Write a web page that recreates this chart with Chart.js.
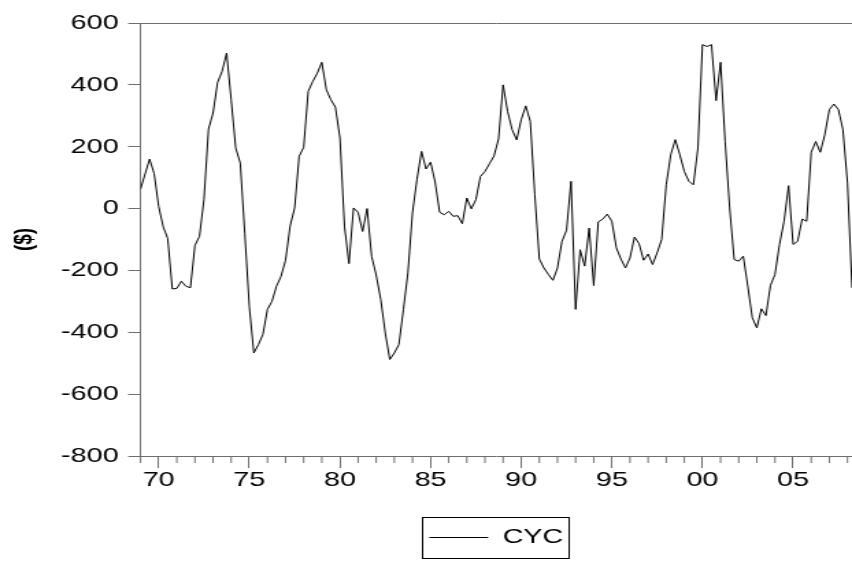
<!DOCTYPE html>
<html>
<head>
<meta charset="utf-8">
<title>CYC</title>
<script src="https://cdn.jsdelivr.net/npm/chart.js@4.4.1/dist/chart.umd.min.js"></script>
<style>
  html, body { margin: 0; padding: 0; background: #fff; overflow: hidden; }
  #cycChart { display: block; }
</style>
</head>
<body>
<!-- the original graph was stretched sideways, so the canvas is drawn narrow and widened by its inline style -->
<canvas id="cycChart" width="622" height="563" style="width:852px;height:563px"></canvas>
<script>
// quarterly series, first observation 1969Q1
const startYear = 1969;
const cyc = [
    63, 112, 160, 113, 7, -59, -97, -260, -258, -235, -251, -256, -119, -90, 30, 257,
    309, 408, 444, 503, 352, 196, 147, -80, -316, -467, -440, -407, -326, -300, -251, -219,
    -167, -57, 2, 169, 198, 379, 411, 438, 473, 384, 352, 328, 228, -57, -178, 2,
    -12, -74, 0, -155, -215, -294, -402, -488, -467, -440, -327, -208, -14, 94, 185, 128,
    150, 86, -12, -20, -9, -25, -23, -49, 34, -1, 29, 104, 120, 145, 170, 225,
    400, 314, 255, 222, 287, 332, 282, 45, -163, -192, -213, -232, -192, -106, -70, 88,
    -326, -133, -186, -63, -249, -43, -34, -18, -41, -127, -163, -192, -160, -92, -113, -167,
    -147, -181, -143, -100, 77, 174, 223, 174, 120, 88, 77, 196, 530, 524, 530, 349,
    473, 217, 2, -165, -170, -154, -251, -353, -386, -324, -346, -249, -213, -116, -41, 74,
    -116, -106, -34, -41, 182, 217, 182, 239, 320, 338, 320, 255, 83, -256
];
const yTicks = [600, 400, 200, 0, -200, -400, -600, -800];
const xLabelYears = [1970, 1975, 1980, 1985, 1990, 1995, 2000, 2005];
const seriesName = 'CYC';
const yTitle = '($)';

const axisGray = '#6e6e6e';
const fontFamily = '"Liberation Sans", Arial, sans-serif';

const points = cyc.map((v, i) => ({ x: startYear + i / 4, y: v }));
const lastX = startYear + (cyc.length - 1) / 4;

// top frame line and the short yearly ticks under the x axis
const frameAndMinorTicks = {
    id: 'frameAndMinorTicks',
    afterDraw(chart) {
        const ctx = chart.ctx;
        const area = chart.chartArea;
        const xs = chart.scales.x;
        ctx.save();
        ctx.strokeStyle = axisGray;
        ctx.lineWidth = 1;
        ctx.beginPath();
        ctx.moveTo(area.left, area.top + 0.5);
        ctx.lineTo(area.right, area.top + 0.5);
        for (let yr = startYear; yr <= Math.floor(lastX); yr++) {
            if (xLabelYears.includes(yr)) continue;
            const px = xs.getPixelForValue(yr);
            ctx.moveTo(px, area.bottom);
            ctx.lineTo(px, area.bottom + 7);
        }
        ctx.stroke();

        // box round the legend
        const hb = chart.legend.legendHitBoxes[0];
        if (hb) {
            ctx.strokeStyle = '#000';
            ctx.strokeRect(Math.round(hb.left - 5) + 0.5, Math.round(hb.top - 10) + 0.5,
                Math.round(hb.width + 9), Math.round(hb.height + 20));
        }
        ctx.restore();
    }
};

const ctx = document.getElementById('cycChart').getContext('2d');
new Chart(ctx, {
    type: 'line',
    data: {
        datasets: [{
            label: seriesName,
            data: points,
            borderColor: '#000',
            borderWidth: 1,
            pointRadius: 0,
            tension: 0,
            fill: false
        }]
    },
    options: {
        responsive: false,
        animation: false,
        devicePixelRatio: 1,
        layout: { padding: { top: 23, right: 0, bottom: 5, left: 0 } },
        plugins: {
            tooltip: { enabled: false },
            legend: {
                position: 'bottom',
                fullSize: false,
                labels: {
                    usePointStyle: true,
                    pointStyle: 'line',
                    pointStyleWidth: 43,
                    padding: 10,
                    color: '#000',
                    font: { family: fontFamily, size: 21 }
                }
            }
        },
        scales: {
            x: {
                type: 'linear',
                min: startYear,
                max: lastX,
                afterBuildTicks: (scale) => {
                    scale.ticks = xLabelYears.map(v => ({ value: v }));
                },
                afterFit: (scale) => { scale.height = 61; },
                grid: { drawOnChartArea: false, tickLength: 12, color: axisGray },
                border: { color: axisGray },
                ticks: {
                    padding: 0,
                    color: '#000',
                    maxRotation: 0,
                    font: { family: fontFamily, size: 21 },
                    callback: (v) => String(v % 100).padStart(2, '0')
                }
            },
            y: {
                min: -800,
                max: 600,
                afterBuildTicks: (scale) => {
                    scale.ticks = yTicks.map(v => ({ value: v }));
                },
                afterFit: (scale) => { scale.width = 102.6; },
                grid: { drawOnChartArea: false, tickLength: 9, color: axisGray },
                border: { color: axisGray },
                title: {
                    display: true,
                    text: yTitle,
                    color: '#000',
                    padding: { top: 6, bottom: 0 },
                    font: { family: fontFamily, size: 19, weight: 'bold' }
                },
                ticks: {
                    padding: 7,
                    color: '#000',
                    font: { family: fontFamily, size: 21 },
                    callback: (v) => String(v)
                }
            }
        }
    },
    plugins: [frameAndMinorTicks]
});
</script>
</body>
</html>
